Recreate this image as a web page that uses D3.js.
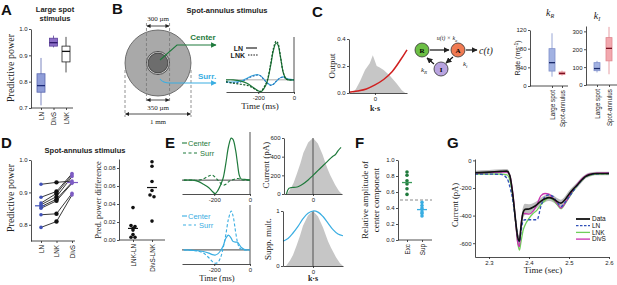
<!DOCTYPE html>
<html>
<head>
<meta charset="utf-8">
<script src="https://cdn.jsdelivr.net/npm/d3@7"></script>
<style>
body { margin: 0; background: #fff; }
svg text { font-family: "Liberation Sans", Arial, sans-serif; }
svg text.serif { font-family: "Liberation Serif", "Times New Roman", serif; }
</style>
</head>
<body>
<script>
// ---- A : large spot, predictive power  [min, q1, median, q3, max]
const modelsA = ["LN", "DivS", "LNK"];
const boxA = [
  [0.71, 0.76, 0.785, 0.83, 0.89],
  [0.93, 0.935, 0.948, 0.965, 0.975],
  [0.835, 0.875, 0.915, 0.935, 0.97]
];

// ---- B : temporal filters (normalised), time in ms
const bT        = [-380, -340, -300, -260, -230, -200, -185, -170, -150, -130, -115, -100, -90, -75, -60, -45, -30, 0];
const bCenterLN  = [0, 0, -0.03, -0.1, -0.2, -0.3, -0.32, -0.25, -0.05, 0.4, 0.8, 1.0, 0.95, 0.6, 0.2, 0.03, 0, 0];
const bCenterLNK = [-0.05, -0.09, -0.12, -0.15, -0.22, -0.3, -0.31, -0.22, -0.02, 0.45, 0.85, 1.05, 1.0, 0.62, 0.2, 0.03, 0, 0];
const bSurrLN    = [-0.05, -0.06, -0.04, 0.05, 0.12, 0.14, 0.1, 0.03, -0.08, -0.14, -0.12, -0.05, 0, 0.06, 0.08, 0.05, 0.02, 0];
const bSurrLNK   = [-0.07, -0.08, -0.06, 0.03, 0.1, 0.13, 0.1, 0.02, -0.09, -0.15, -0.12, -0.04, 0.01, 0.06, 0.07, 0.04, 0.01, 0];

// ---- C : nonlinearity + stimulus distribution
const outX    = [-2.6, -2.2, -1.7, -1.15, -0.6, -0.25, 0.2, 0.5, 1.0, 1.7, 2.5, 3.1, 3.5];
const outDist = [0, 0.03, 0.09, 0.17, 0.22, 0.28, 0.2, 0.19, 0.17, 0.13, 0.07, 0.02, 0];
const nlX = [-3, -2, -1, 0, 1, 2, 3, 3.7];
const nlY = [0.005, 0.015, 0.03, 0.06, 0.1, 0.16, 0.25, 0.32];

// ---- C : rate constants [min, q1, median, q3, max]
const rateCats = ["Large spot", "Spot-annulus"];
const kRBox = [[20, 32, 50, 80, 113], [22, 25, 27, 30, 33]];
const kIBox = [[70, 80, 92, 125, 135], [60, 135, 205, 265, 325]];

// ---- D : spot-annulus predictive power per cell
const modelsD = ["LN", "LNK", "DivS"];
const ppLN   = [0.925, 0.885, 0.867, 0.862, 0.856, 0.851, 0.831, 0.792];
const ppLNK  = [0.931, 0.903, 0.897, 0.887, 0.879, 0.874, 0.834, 0.81];
const ppDivS = [0.935, 0.958, 0.954, 0.949, 0.931, 0.928, 0.897, 0.892];
const diffCats = ["LNK-LN", "DivS-LNK"];
const diffLNK  = [0.036, 0.016, 0.015, 0.013, 0.011, 0.006, 0.003, 0.003];
const diffDivS = [0.087, 0.082, 0.065, 0.055, 0.050, 0.048, 0.021];

// ---- E : filters and nonlinearities
const eT         = [-370, -320, -290, -260, -230, -210, -195, -180, -165, -150, -135, -120, -105, -95, -80, -70, -60, -50, -30, 0];
const eExcCenter = [0, 0, -0.03, -0.1, -0.18, -0.27, -0.32, -0.25, -0.12, 0.05, 0.4, 0.8, 1.0, 0.97, 0.7, 0.4, 0.12, 0.03, 0.02, 0];
const eExcSurr   = [0, 0, 0, 0.03, 0.1, 0.12, 0.07, 0, -0.07, -0.12, -0.1, -0.04, 0, 0.01, 0.03, 0.04, 0.03, 0.01, 0, 0];
const eSupCenter = [0, -0.01, -0.02, -0.04, -0.08, -0.12, -0.13, -0.1, -0.02, 0.1, 0.3, 0.38, 0.3, 0.22, 0.2, 0.2, 0.14, 0.07, 0.01, 0];
const eSupSurr   = [0, -0.01, -0.03, -0.08, -0.2, -0.3, -0.34, -0.32, -0.2, 0.05, 0.4, 0.8, 1.0, 0.88, 0.45, 0.2, 0.06, 0.02, 0, 0];
const ksX    = [-3, -2.7, -2.3, -2, -1.65, -1.3, -1, -0.5, 0, 0.5, 1, 1.2, 1.5, 1.8, 2.3, 2.7, 3];
const ksDist = [0, 0, 0.1, 0.2, 0.37, 0.55, 0.73, 0.92, 1, 0.9, 0.7, 0.6, 0.45, 0.33, 0.16, 0.05, 0];
const excX   = [-2.75, -2.5, -2.2, -1.8, -1.5, -1, -0.5, 0, 0.5, 1, 1.5, 2, 2.3, 2.6, 2.9];
const excCur = [0, 60, 70, 72, 80, 110, 150, 200, 250, 300, 350, 400, 420, 465, 500];
const suppX   = [-3, -2.5, -2, -1.5, -1, -0.5, 0, 0.5, 1, 1.5, 2, 2.5, 3];
const suppVal = [0.45, 0.5, 0.6, 0.72, 0.86, 0.96, 1, 0.98, 0.9, 0.78, 0.66, 0.58, 0.55];

// ---- F : relative amplitude of center component
const relCats = ["Exc", "Sup"];
const relExc = [0.85, 0.81, 0.74, 0.70, 0.64, 0.57];
const relSup = [0.47, 0.43, 0.40, 0.38, 0.35, 0.33, 0.30];

// ---- G : response traces (pA), time in sec
const gT    = [2.265, 2.30, 2.33, 2.345, 2.352, 2.36, 2.367, 2.372, 2.376, 2.38, 2.385, 2.39, 2.40, 2.41, 2.42, 2.43, 2.44, 2.45, 2.46, 2.47, 2.48, 2.49, 2.50, 2.51, 2.52, 2.53, 2.54, 2.55, 2.57, 2.60];
const gData = [-90, -85, -80, -78, -110, -260, -450, -560, -585, -480, -380, -355, -352, -340, -320, -295, -278, -270, -278, -298, -310, -285, -245, -210, -180, -148, -120, -105, -95, -95];
const gSem  = [15, 15, 15, 15, 20, 30, 40, 40, 40, 40, 40, 40, 35, 30, 25, 25, 25, 25, 25, 25, 25, 25, 25, 20, 20, 20, 15, 15, 12, 12];
const gLN   = [-100, -100, -102, -130, -190, -300, -450, -560, -590, -520, -440, -430, -430, -430, -430, -330, -262, -250, -262, -300, -335, -305, -265, -225, -185, -150, -122, -106, -98, -95];
const gLNK  = [-100, -100, -100, -105, -140, -270, -460, -600, -650, -590, -510, -470, -420, -385, -360, -320, -290, -272, -285, -320, -350, -315, -270, -225, -185, -150, -122, -108, -100, -97];
const gDivS = [-92, -88, -85, -85, -110, -250, -460, -600, -625, -470, -385, -385, -390, -370, -320, -255, -240, -245, -275, -310, -345, -310, -265, -215, -175, -140, -115, -100, -92, -90];
const gNames = ["Data", "LN", "LNK", "DivS"];

// colours
const cGreen = "#1f7a3c", cBlue = "#3aaee2";

const svg = d3.select("body").append("svg").attr("width", 617).attr("height", 285);
svg.append("rect").attr("width", 617).attr("height", 285).attr("fill", "#fff");

const defs = svg.append("defs");
function marker(id, color) {
  defs.append("marker").attr("id", id).attr("viewBox", "0 0 10 10")
    .attr("refX", 9).attr("refY", 5).attr("markerWidth", 5).attr("markerHeight", 5)
    .attr("orient", "auto-start-reverse")
    .append("path").attr("d", "M0,0L10,5L0,10z").attr("fill", color);
}
marker("ahK", "#222"); marker("ahG", cGreen); marker("ahB", cBlue);

// ---------- helpers ----------
function styleAxis(g) {
  g.selectAll(".domain").attr("stroke", "#222").attr("stroke-width", 0.8);
  g.selectAll(".tick line").attr("stroke", "#222").attr("stroke-width", 0.8);
  g.selectAll(".tick text").attr("font-size", 6).attr("fill", "#222");
}
function yAxis(x, sc, ticks, fmt) {
  const g = svg.append("g").attr("transform", "translate(" + x + ",0)")
    .call(d3.axisLeft(sc).tickValues(ticks).tickFormat(fmt).tickSize(2).tickSizeOuter(0).tickPadding(1.5));
  styleAxis(g);
  return g;
}
function xAxis(y, sc, ticks, fmt) {
  const g = svg.append("g").attr("transform", "translate(0," + y + ")")
    .call(d3.axisBottom(sc).tickValues(ticks).tickFormat(fmt).tickSize(2).tickSizeOuter(0).tickPadding(1.5));
  styleAxis(g);
  return g;
}
function catAxis(y, sc, x0, x1) {
  svg.append("line").attr("x1", x0).attr("x2", x1).attr("y1", y).attr("y2", y)
    .attr("stroke", "#222").attr("stroke-width", 0.8);
  const g = svg.append("g").attr("transform", "translate(0," + y + ")")
    .call(d3.axisBottom(sc).tickSize(2).tickSizeOuter(0));
  g.select(".domain").remove();
  styleAxis(g);
  g.selectAll(".tick text").attr("transform", "rotate(-90)").attr("text-anchor", "end")
    .attr("font-size", 6.3).attr("x", -4).attr("y", 0).attr("dy", "0.35em");
}
function text(x, y, s, o) {
  o = o || {};
  const t = svg.append("text").attr("x", x).attr("y", y).text(s)
    .attr("font-size", o.size || 7).attr("text-anchor", o.anchor || "middle")
    .attr("fill", o.fill || "#222");
  if (o.bold) t.attr("font-weight", "bold");
  if (o.serif) t.attr("class", "serif");
  if (o.italic) t.attr("font-style", "italic");
  if (o.rot) t.attr("transform", "rotate(" + o.rot + "," + x + "," + y + ")");
  return t;
}
function hline(x0, x1, y, col, w, dash) {
  return svg.append("line").attr("x1", x0).attr("x2", x1).attr("y1", y).attr("y2", y)
    .attr("stroke", col).attr("stroke-width", w || 0.8).attr("stroke-dasharray", dash || null);
}
function vline(x, y0, y1, col, w) {
  return svg.append("line").attr("x1", x).attr("x2", x).attr("y1", y0).attr("y2", y1)
    .attr("stroke", col).attr("stroke-width", w || 0.8);
}
function trace(xs, ys, xv, yv, col, w, dash, curve) {
  const ln = d3.line().x(d => xs(d[0])).y(d => ys(d[1])).curve(curve || d3.curveCatmullRom.alpha(0.5));
  return svg.append("path").datum(d3.zip(xv, yv)).attr("d", ln)
    .attr("fill", "none").attr("stroke", col).attr("stroke-width", w || 1.2)
    .attr("stroke-dasharray", dash || null);
}
function shade(xs, ys, xv, yv, scaleY) {
  const ar = d3.area().x(d => xs(d[0])).y0(ys(0)).y1(d => ys(d[1] * (scaleY || 1)));
  return svg.append("path").datum(d3.zip(xv, yv)).attr("d", ar).attr("fill", "#c6c6c6");
}
function boxes(xs, ys, cats, stats, fills, strokes, meds, w) {
  const b = svg.append("g").selectAll("g").data(stats).enter().append("g")
    .attr("transform", (d, i) => "translate(" + xs(cats[i]) + ",0)");
  b.append("line").attr("y1", d => ys(d[0])).attr("y2", d => ys(d[4]))
    .attr("stroke", (d, i) => strokes[i]).attr("stroke-width", 0.8);
  b.append("rect").attr("x", -w / 2).attr("width", w)
    .attr("y", d => ys(d[3])).attr("height", d => ys(d[1]) - ys(d[3]))
    .attr("fill", (d, i) => fills[i]).attr("stroke", (d, i) => strokes[i]).attr("stroke-width", 0.8);
  b.append("line").attr("x1", -w / 2).attr("x2", w / 2)
    .attr("y1", d => ys(d[2])).attr("y2", d => ys(d[2]))
    .attr("stroke", (d, i) => meds[i]).attr("stroke-width", 1.3);
}
function dots(xs, ys, cat, vals, col, r, spread) {
  // spread points that sit on top of each other
  const sorted = vals.slice().sort((a, b) => b - a);
  const pos = [];
  let grp = [];
  sorted.forEach(v => {
    if (grp.length && Math.abs(grp[grp.length - 1] - v) > spread) { pos.push(grp); grp = []; }
    grp.push(v);
  });
  if (grp.length) pos.push(grp);
  const pts = [];
  pos.forEach(g => g.forEach((v, j) => pts.push([xs(cat) + (j - (g.length - 1) / 2) * 4, v])));
  svg.append("g").selectAll("circle").data(pts).enter().append("circle")
    .attr("cx", d => d[0]).attr("cy", d => ys(d[1])).attr("r", r).attr("fill", col);
}
const fmtPlain = d => String(d);

// ---------- panel letters ----------
[["A", 1, 15], ["B", 112, 14], ["C", 312, 17], ["D", 1, 148], ["E", 165, 148], ["F", 355, 148], ["G", 447, 148]]
  .forEach(p => text(p[1], p[2], p[0], { size: 15, bold: true, anchor: "start", fill: "#111" }));

// ================= A =================
const yA = d3.scaleLinear().domain([0.7, 1.0]).range([108, 29]);
const xA = d3.scalePoint().domain(modelsA).range([41, 66]);
yAxis(31, yA, [0.7, 0.8, 0.9, 1.0], d3.format(".1f"));
catAxis(108, xA, 31, 73);
boxes(xA, yA, modelsA, boxA, ["#8f9dd8", "#8b6ec6", "#fff"], ["#5a68b0", "#5a3f99", "#222"], ["#1d2b78", "#2a1466", "#111"], 8);
text(55, 12, "Large spot", { bold: true, size: 7.5 });
text(55, 21, "stimulus", { bold: true, size: 7.5 });
text(13.5, 68, "Predictive power", { serif: true, size: 10, rot: -90 });

// ================= B =================
text(227, 13, "Spot-annulus stimulus", { bold: true, size: 7.5 });
const um = d3.scaleLinear().domain([-500, 500]).range([125, 191]);
const cy = 63;
svg.append("circle").attr("cx", um(0)).attr("cy", cy).attr("r", um(500) - um(0))
  .attr("fill", "#a9a9a9").attr("stroke", "#555").attr("stroke-width", 0.8);
svg.append("circle").attr("cx", um(0)).attr("cy", cy).attr("r", um(175) - um(0))
  .attr("fill", "#cfcfcf").attr("stroke", "#333").attr("stroke-width", 0.8);
svg.append("circle").attr("cx", um(0)).attr("cy", cy).attr("r", um(150) - um(0))
  .attr("fill", "#6d6d6d").attr("stroke", "#333").attr("stroke-width", 0.8);
[-175, 175].forEach(v => svg.append("line").attr("x1", um(v)).attr("x2", um(v)).attr("y1", 23).attr("y2", 103)
  .attr("stroke", "#777").attr("stroke-width", 0.8).attr("stroke-dasharray", "3,2"));
[-500, 500].forEach(v => svg.append("line").attr("x1", um(v)).attr("x2", um(v)).attr("y1", 70).attr("y2", 117)
  .attr("stroke", "#777").attr("stroke-width", 0.8).attr("stroke-dasharray", "3,2"));
function dimArrow(a, b, y) {
  svg.append("line").attr("x1", um(a) + 0.5).attr("x2", um(b) - 0.5).attr("y1", y).attr("y2", y)
    .attr("stroke", "#222").attr("stroke-width", 0.8)
    .attr("marker-start", "url(#ahK)").attr("marker-end", "url(#ahK)");
}
dimArrow(-175, 175, 26); text(um(0), 21, "300 µm", { serif: true, size: 7 });
dimArrow(-175, 175, 100); text(um(0), 110, "350 µm", { serif: true, size: 7 });
dimArrow(-500, 500, 114); text(um(0), 124, "1 mm", { serif: true, size: 7 });
svg.append("path").attr("d", "M160,60 L177,45 L216,45").attr("fill", "none")
  .attr("stroke", cGreen).attr("stroke-width", 1.1).attr("marker-end", "url(#ahG)");
text(203, 40, "Center", { bold: true, size: 8, fill: cGreen });
svg.append("path").attr("d", "M160,79 Q163,83 170,83 L216,83").attr("fill", "none")
  .attr("stroke", cBlue).attr("stroke-width", 1.1).attr("marker-end", "url(#ahB)");
text(207, 79, "Surr.", { bold: true, size: 8, fill: cBlue });

const xB = d3.scaleLinear().domain([-380, 0]).range([226, 294]);
const yB = d3.scaleLinear().domain([-0.33, 1.0]).range([92, 43]);
hline(226, 294, yB(0), "#999", 0.8);
vline(294, 37, 92, "#222");
xAxis(92, xB, [-200, 0], fmtPlain);
trace(xB, yB, bT, bSurrLN, cBlue, 1.1);
trace(xB, yB, bT, bSurrLNK, "#2d6fb5", 1.1, "2,1.5");
trace(xB, yB, bT, bCenterLN, cGreen, 1.2);
trace(xB, yB, bT, bCenterLNK, "#145a2a", 1.2, "2,1.5");
text(243, 51, "LN", { bold: true, size: 7, anchor: "end" });
hline(246, 257, 48, "#111", 1.1);
text(245, 58, "LNK", { bold: true, size: 7, anchor: "end" });
hline(248, 258, 55, "#111", 1.1, "1.5,1.2");
text(260, 109, "Time (ms)", { serif: true, size: 9 });

// ================= C =================
const xC = d3.scaleLinear().domain([-3, 3.7]).range([349, 407]);
const yC = d3.scaleLinear().domain([0, 0.4]).range([93, 39]);
shade(xC, yC, outX, outDist);
trace(xC, yC, nlX, nlY, "#d02020", 1.5);
yAxis(349, yC, [0, 0.2, 0.4], d3.format(".1f"));
xAxis(93, xC, [0], fmtPlain);
text(375, 111, "k·s", { serif: true, bold: true, size: 8 });
text(335, 66, "Output", { serif: true, size: 9, rot: -90 });

// kinetic diagram
const nodes = [["R", 422, 50, "#6cbf45"], ["A", 458, 50, "#f07a52"], ["I", 441, 69, "#b9a4e0"]];
function arrow(x1, y1, x2, y2) {
  svg.append("line").attr("x1", x1).attr("y1", y1).attr("x2", x2).attr("y2", y2)
    .attr("stroke", "#111").attr("stroke-width", 1.2).attr("marker-end", "url(#ahK)");
}
arrow(430, 50, 449, 50);
arrow(466, 50, 477, 50);
arrow(453, 57, 446, 63);
arrow(434, 64, 427, 58);
svg.append("g").selectAll("circle").data(nodes).enter().append("circle")
  .attr("cx", d => d[1]).attr("cy", d => d[2]).attr("r", 7)
  .attr("fill", d => d[3]).attr("stroke", "#333").attr("stroke-width", 0.8);
svg.append("g").selectAll("text").data(nodes).enter().append("text")
  .attr("class", "serif").attr("x", d => d[1]).attr("y", d => d[2] + 2.5)
  .attr("text-anchor", "middle").attr("font-size", 7).attr("font-weight", "bold").text(d => d[0]);
const ct = text(479, 54, "c(", { serif: true, italic: true, size: 10, anchor: "start" });
ct.append("tspan").text("t");
ct.append("tspan").text(")");
const ut = text(447, 40, "u(t) × k", { serif: true, italic: true, size: 6 });
ut.append("tspan").attr("dy", 1.5).attr("font-size", 4.5).text("a");
const ki = text(463, 66, "k", { serif: true, italic: true, size: 7, anchor: "start" });
ki.append("tspan").attr("dy", 1.5).attr("font-size", 5).text("i");
const kr = text(421, 72, "k", { serif: true, italic: true, size: 7, anchor: "start" });
kr.append("tspan").attr("dy", 1.5).attr("font-size", 5).text("R");

// rate boxplots
const rateFill = ["#a2b2e2", "#f2a8ae"], rateStroke = ["#7f8fca", "#e0868e"], rateMed = ["#1a2a6a", "#7a1020"];
const yKR = d3.scaleLinear().domain([0, 120]).range([86, 30]);
const xKR = d3.scalePoint().domain(rateCats).range([552, 562]);
yAxis(530, yKR, [0, 40, 80, 120], fmtPlain);
catAxis(86, xKR, 530, 568);
boxes(xKR, yKR, rateCats, kRBox, rateFill, rateStroke, rateMed, 6);
const yKI = d3.scaleLinear().domain([0, 330]).range([85, 26]);
const xKI = d3.scalePoint().domain(rateCats).range([597, 609]);
yAxis(586, yKI, [0, 100, 200, 300], fmtPlain);
catAxis(85, xKI, 586, 617);
boxes(xKI, yKI, rateCats, kIBox, rateFill, rateStroke, rateMed, 6);
const tR = text(550, 16, "k", { serif: true, italic: true, size: 10 });
tR.append("tspan").attr("dy", 2).attr("font-size", 6).text("R");
const tI = text(597, 19, "k", { serif: true, italic: true, size: 10 });
tI.append("tspan").attr("dy", 2).attr("font-size", 6).text("I");
const rl = text(520, 58, "Rate (ms", { size: 7, rot: -90 });
rl.append("tspan").attr("dy", -2.5).attr("font-size", 5).text("-1");
rl.append("tspan").attr("dy", 2.5).text(")");

// ================= D =================
text(85, 153, "Spot-annulus stimulus", { bold: true, size: 7.5 });
const yD = d3.scaleLinear().domain([0.75, 1.0]).range([241, 160]);
const xD = d3.scalePoint().domain(modelsD).range([41, 72]);
yAxis(31, yD, [0.8, 0.9, 1.0], d3.format(".1f"));
catAxis(241, xD, 31, 75);
const cells = d3.zip(ppLN, ppLNK, ppDivS);
svg.append("g").selectAll("path").data(cells).enter().append("path")
  .attr("d", d => d3.line().x((v, i) => xD(modelsD[i])).y(v => yD(v))(d))
  .attr("fill", "none").attr("stroke", "#222").attr("stroke-width", 0.9);
const dCols = ["#4152b8", "#111", "#7d5cc4"];
[ppLN, ppLNK, ppDivS].forEach((arr, i) => {
  svg.append("g").selectAll("circle").data(arr).enter().append("circle")
    .attr("cx", xD(modelsD[i])).attr("cy", d => yD(d)).attr("r", i === 1 ? 2.2 : 1.8).attr("fill", dCols[i]);
});
hline(xD("LN") - 6, xD("LN") + 4, yD(d3.mean(ppLN)), "#4152b8", 1.2);
hline(xD("DivS") - 5, xD("DivS") + 6, yD(d3.mean(ppDivS)), "#7d5cc4", 1.2);
text(13.5, 198, "Predictive power", { serif: true, size: 10, rot: -90 });

const yD2 = d3.scaleLinear().domain([0, 0.09]).range([240, 159]);
const xD2 = d3.scalePoint().domain(diffCats).range([133, 152]);
yAxis(119, yD2, [0, 0.02, 0.04, 0.06, 0.08], d3.format(".2f"));
catAxis(240, xD2, 119, 165);
dots(xD2, yD2, "LNK-LN", diffLNK, "#111", 1.8, 0.0015);
dots(xD2, yD2, "DivS-LNK", diffDivS, "#111", 1.8, 0.004);
hline(xD2("LNK-LN") - 5, xD2("LNK-LN") + 5, yD2(d3.mean(diffLNK)), "#111", 1.2);
hline(xD2("DivS-LNK") - 5, xD2("DivS-LNK") + 5, yD2(d3.mean(diffDivS)), "#111", 1.2);
text(100.5, 200, "Pred. power difference", { serif: true, size: 8.5, rot: -90 });

// ================= E =================
const xE = d3.scaleLinear().domain([-380, 0]).range([182, 250]);
const yE1 = d3.scaleLinear().domain([-0.33, 1.05]).range([194, 136]);
hline(182, 250, yE1(0), "#333", 0.9);
vline(250, 132, 194, "#222");
xAxis(194, xE, [-200, 0], fmtPlain);
trace(xE, yE1, eT, eExcSurr, cGreen, 1.1, "3,2");
trace(xE, yE1, eT, eExcCenter, cGreen, 1.2);
hline(182, 187, 143, cGreen, 1.1); text(188, 146, "Center", { size: 7.5, anchor: "start", fill: cGreen });
hline(183, 197, 153, cGreen, 1.1, "3,2.5"); text(200, 156, "Surr", { size: 7.5, anchor: "start", fill: cGreen });

const yE2 = d3.scaleLinear().domain([-0.36, 1]).range([264, 211]);
hline(182, 250, yE2(0), "#666", 1.2);
vline(250, 205, 264, "#222");
xAxis(264, xE, [-200, 0], fmtPlain);
trace(xE, yE2, eT, eSupSurr, cBlue, 1.1, "3,2");
trace(xE, yE2, eT, eSupCenter, cBlue, 1.2);
hline(182, 187, 216, cBlue, 1.1); text(188, 219, "Center", { size: 7.5, anchor: "start", fill: cBlue });
hline(183, 196, 225, cBlue, 1.1, "3,2.5"); text(199, 228, "Surr", { size: 7.5, anchor: "start", fill: cBlue });
text(217, 281, "Time (ms)", { serif: true, size: 8.5 });

const xE3 = d3.scaleLinear().domain([-3, 3]).range([284, 342]);
const yE3 = d3.scaleLinear().domain([0, 600]).range([194, 138]);
shade(xE3, yE3, ksX, ksDist, 600);
vline(xE3(0), 138, 194, "#333");
trace(xE3, yE3, excX, excCur, cGreen, 1.2);
yAxis(284, yE3, [0, 200, 400, 600], fmtPlain);
xAxis(194, xE3, [0], fmtPlain);
text(269, 165, "Current (pA)", { serif: true, size: 9, rot: -90 });

const xE4 = d3.scaleLinear().domain([-3, 3]).range([283, 343]);
const yE4 = d3.scaleLinear().domain([0, 1]).range([266, 211]);
shade(xE4, yE4, ksX, ksDist);
vline(xE4(0), 211, 266, "#333");
trace(xE4, yE4, suppX, suppVal, cBlue, 1.2);
yAxis(283, yE4, [0, 1], fmtPlain);
xAxis(266, xE4, [0], fmtPlain);
text(313, 281, "k·s", { serif: true, bold: true, size: 8 });
text(271, 239, "Supp. mult.", { serif: true, size: 9, rot: -90 });

// ================= F =================
const yF = d3.scaleLinear().domain([0, 1]).range([240, 160]);
const xF = d3.scalePoint().domain(relCats).range([407, 422]);
yAxis(398, yF, [0, 0.2, 0.4, 0.6, 0.8, 1.0], d3.format(".1f"));
catAxis(240, xF, 398, 432);
hline(400, 432, yF(0.5), "#888", 1, "3,2");
dots(xF, yF, "Exc", relExc, cGreen, 1.8, 0);
dots(xF, yF, "Sup", relSup, cBlue, 1.8, 0);
hline(xF("Exc") - 5, xF("Exc") + 5, yF(d3.mean(relExc)), "#3a9a5a", 1.3);
hline(xF("Sup") - 5, xF("Sup") + 5, yF(d3.mean(relSup)), cBlue, 1.3);
vline(xF("Sup"), yF(d3.max(relSup)), yF(d3.min(relSup)), cBlue, 1.2);
text(368, 200, "Relative amplitude of", { serif: true, size: 9, rot: -90 });
text(379, 200, "center component", { serif: true, size: 9, rot: -90 });

// ================= G =================
const xG = d3.scaleLinear().domain([2.265, 2.6]).range([475, 609]);
const yG = d3.scaleLinear().domain([-700, 10]).range([257, 159]);
const band = d3.area().x(d => xG(d[0])).y0(d => yG(d[1] - d[2])).y1(d => yG(d[1] + d[2]))
  .curve(d3.curveMonotoneX);
svg.append("path").datum(d3.zip(gT, gData, gSem)).attr("d", band).attr("fill", "#bdbdbd");
const gCols = ["#111", "#3050b8", "#6fcf5a", "#c832b0"];
trace(xG, yG, gT, gLNK, gCols[2], 1.3, null, d3.curveMonotoneX);
trace(xG, yG, gT, gDivS, gCols[3], 1.3, null, d3.curveMonotoneX);
trace(xG, yG, gT, gLN, gCols[1], 1.3, "3,2", d3.curveMonotoneX);
trace(xG, yG, gT, gData, gCols[0], 1.6, null, d3.curveMonotoneX);
yAxis(475, yG, [-600, -400, -200, 0], fmtPlain);
xAxis(257, xG, [2.3, 2.4, 2.5, 2.6], d3.format(".1f"));
gNames.forEach((n, i) => {
  const y = 219 + i * 6.7;
  hline(576, 590, y, gCols[i], i === 0 ? 1.8 : 1.3, i === 1 ? "2.5,1.5" : null);
  text(592, y + 2.3, n, { size: 6.5, anchor: "start", fill: "#111" });
});
text(543, 273, "Time (sec)", { serif: true, size: 9 });
text(458, 205, "Current (pA)", { serif: true, size: 8.5, rot: -90 });
</script>
</body>
</html>
